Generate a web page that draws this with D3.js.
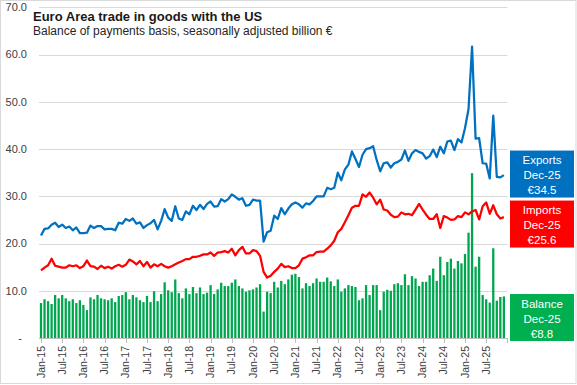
<!DOCTYPE html>
<html>
<head>
<meta charset="utf-8">
<script src="https://cdn.jsdelivr.net/npm/d3@7"></script>
<style>
  body { margin: 0; background: #fff; }
  text { font-family: "Liberation Sans", Arial, sans-serif; }
</style>
</head>
<body>
<script>
var w = 577;
var h = 385;

// Monthly data, Jan-15 .. Dec-25 (billion euro)
var exportsUS = [
    21.7, 23.1, 23.2, 24.0, 24.4, 23.5, 24.0, 23.3, 23.6, 22.8, 23.4, 22.2,
    22.2, 22.3, 23.8, 23.3, 23.7, 23.7, 23.0, 23.1, 23.1, 22.8, 24.4, 24.2,
    25.2, 24.8, 25.3, 24.2, 24.5, 23.3, 23.9, 24.3, 25.0, 23.0, 24.8, 27.3,
    25.5, 24.8, 27.9, 25.3, 25.0, 26.8, 26.2, 28.0, 27.1, 28.2, 27.3, 28.4,
    28.9, 27.8, 27.9, 29.4, 28.9, 29.4, 30.4, 29.9, 29.3, 29.6, 28.0, 28.2,
    29.3, 29.1, 29.1, 20.4, 22.4, 22.7, 25.9, 25.2, 27.5, 26.2, 27.4, 28.3,
    28.7, 28.3, 27.6, 28.5, 28.3, 29.0, 30.0, 30.0, 30.0, 31.8, 31.5, 31.8,
    35.0, 33.4, 35.7, 36.7, 39.5, 37.9, 36.2, 38.8, 40.0, 40.2, 40.6, 37.7,
    35.3, 37.0, 37.2, 36.1, 37.0, 37.3, 37.8, 39.7, 37.5, 39.1, 39.8, 39.4,
    39.1, 38.0, 38.5, 39.9, 38.3, 40.5, 39.1, 41.6, 41.8, 39.8, 42.1, 41.4,
    44.4, 48.5, 61.7, 42.2, 42.3, 37.0, 36.9, 33.8, 47.1, 34.1, 34.0, 34.5
];
var importsUS = [
    14.3, 14.9, 15.4, 16.8, 15.3, 15.1, 14.9, 14.9, 15.4, 15.2, 15.4, 14.8,
    15.2, 16.4, 15.2, 15.1, 14.6, 15.3, 14.8, 15.1, 14.7, 15.2, 15.5, 15.1,
    15.5, 16.6, 16.2, 15.6, 16.3, 15.2, 16.1, 14.9, 15.6, 15.2, 15.7, 15.2,
    14.9, 15.2, 15.6, 16.0, 16.3, 16.7, 16.7, 17.2, 17.2, 17.4, 17.7, 17.7,
    18.1, 17.4, 18.1, 18.2, 18.4, 18.1, 18.9, 17.5, 18.6, 19.3, 17.9, 17.9,
    18.6, 18.4, 17.4, 14.0, 12.8, 13.2, 14.0, 14.7, 15.7, 15.0, 15.2, 14.8,
    14.8, 15.4, 16.8, 17.1, 17.5, 17.5, 18.2, 18.3, 18.3, 18.9, 19.6, 20.6,
    22.4, 23.1, 24.5, 26.0, 27.6, 28.0, 28.0, 30.4, 29.9, 30.8, 29.7, 28.3,
    29.3, 27.2, 27.0, 26.1, 25.6, 25.7, 26.6, 26.2, 26.3, 26.0, 27.2, 28.4,
    27.2, 26.1, 25.2, 25.2, 26.2, 23.3, 25.8, 25.5, 25.0, 25.1, 25.8, 25.6,
    26.6, 26.2, 26.8, 27.1, 25.1, 27.9, 28.7, 26.3, 28.1, 26.2, 25.3, 25.6
];
var balanceUS = [
    7.4, 8.2, 7.8, 7.2, 9.1, 8.4, 9.1, 8.4, 7.8, 8.2, 7.4, 8.0,
    7.0, 5.9, 8.6, 8.2, 9.1, 8.4, 8.2, 8.0, 8.4, 7.6, 8.9, 9.1,
    9.7, 8.2, 9.1, 8.6, 8.0, 7.6, 8.9, 7.6, 9.9, 7.8, 9.3, 11.8,
    10.1, 9.7, 12.4, 9.5, 8.4, 10.5, 9.3, 10.8, 9.5, 10.7, 9.3, 9.6,
    11.2, 9.3, 10.3, 11.7, 11.0, 11.0, 11.7, 12.4, 11.0, 10.5, 9.8, 10.1,
    10.3, 10.7, 11.4, 5.6, 9.8, 9.5, 11.9, 10.7, 12.1, 11.4, 12.4, 13.4,
    13.6, 12.9, 10.5, 11.6, 11.0, 11.6, 12.6, 11.9, 11.9, 12.8, 12.0, 11.0,
    12.4, 9.8, 10.5, 11.2, 11.0, 10.8, 8.0, 8.4, 11.2, 9.1, 11.2, 11.2,
    5.9, 9.8, 10.2, 10.0, 11.4, 11.6, 11.2, 13.5, 11.2, 13.1, 12.6, 11.0,
    11.9, 11.9, 13.3, 14.7, 12.1, 17.2, 13.3, 16.1, 16.8, 14.7, 16.3, 15.8,
    17.8, 22.3, 34.9, 15.1, 17.2, 9.1, 8.2, 7.5, 19.0, 7.9, 8.7, 8.8
];

var tickLabels = ["Jan-15", "Jul-15", "Jan-16", "Jul-16", "Jan-17", "Jul-17",
    "Jan-18", "Jul-18", "Jan-19", "Jul-19", "Jan-20", "Jul-20", "Jan-21", "Jul-21",
    "Jan-22", "Jul-22", "Jan-23", "Jul-23", "Jan-24", "Jul-24", "Jan-25", "Jul-25"];
var yTicks = [0, 10, 20, 30, 40, 50, 60, 70];

var lastLabel = "Dec-25";

var nMonths = exportsUS.length;

//Scales
var xScale = d3.scaleLinear()
    .domain([0, nMonths])
    .range([41, 507.4]);

var yScale = d3.scaleLinear()
    .domain([0, 70])
    .range([338, 7.4]);

var svg = d3.select("body")
    .append("svg")
    .attr("width", w)
    .attr("height", h);

//Outer frame
svg.append("rect")
    .attr("x", 0.5).attr("y", 0.5)
    .attr("width", w - 1.5).attr("height", h - 2)
    .attr("fill", "#fff")
    .attr("stroke", "#d9d9d9");

//Gridlines
svg.append("g")
    .selectAll("line")
    .data(yTicks.filter(function(d) { return d > 0; }))
    .enter()
    .append("line")
    .attr("x1", 39)
    .attr("x2", xScale(nMonths))
    .attr("y1", function(d) { return Math.round(yScale(d)) + 0.5; })
    .attr("y2", function(d) { return Math.round(yScale(d)) + 0.5; })
    .attr("stroke", "#d9d9d9")
    .attr("stroke-width", 1);

//Y labels
var fmt = d3.format(".1f");
svg.append("g")
    .selectAll("text")
    .data(yTicks)
    .enter()
    .append("text")
    .attr("x", function(d) { return d === 0 ? 22 : 27; })
    .attr("y", function(d) { return yScale(d); })
    .attr("dy", "0.35em")
    .attr("text-anchor", "end")
    .attr("font-size", "11px")
    .attr("fill", "#404040")
    .text(function(d) { return d === 0 ? "-" : fmt(d); });

//Balance bars
var bw = 2.3;
svg.append("g")
    .selectAll("rect")
    .data(balanceUS)
    .enter()
    .append("rect")
    .attr("x", function(d, i) { return xScale(i) - bw / 2; })
    .attr("y", function(d) { return yScale(d); })
    .attr("width", bw)
    .attr("height", function(d) { return yScale(0) - yScale(d); })
    .attr("fill", "#00a64f");

//X axis line + ticks
svg.append("line")
    .attr("x1", 39).attr("x2", xScale(nMonths))
    .attr("y1", yScale(0) + 0.5).attr("y2", yScale(0) + 0.5)
    .attr("stroke", "#bfbfbf");

var tickIdx = d3.range(0, nMonths + 1, 6);
svg.append("g")
    .selectAll("line")
    .data(tickIdx)
    .enter()
    .append("line")
    .attr("x1", function(d) { return Math.round(xScale(d)) + 0.5; })
    .attr("x2", function(d) { return Math.round(xScale(d)) + 0.5; })
    .attr("y1", yScale(0))
    .attr("y2", yScale(0) + 5)
    .attr("stroke", "#bfbfbf");

svg.append("g")
    .selectAll("text")
    .data(tickLabels)
    .enter()
    .append("text")
    .attr("transform", function(d, i) {
        return "translate(" + xScale(i * 6) + "," + (yScale(0) + 8) + ") rotate(-90)";
    })
    .attr("dy", "0.35em")
    .attr("text-anchor", "end")
    .attr("font-size", "10.5px")
    .attr("fill", "#404040")
    .text(function(d) { return d; });

//Lines
var line = d3.line()
    .x(function(d, i) { return xScale(i); })
    .y(function(d) { return yScale(d); });

svg.append("path")
    .datum(importsUS)
    .attr("d", line)
    .attr("fill", "none")
    .attr("stroke", "#ff0000")
    .attr("stroke-width", 2.25)
    .attr("stroke-linejoin", "round");

svg.append("path")
    .datum(exportsUS)
    .attr("d", line)
    .attr("fill", "none")
    .attr("stroke", "#0070c0")
    .attr("stroke-width", 2.25)
    .attr("stroke-linejoin", "round");

//Title
svg.append("text")
    .attr("x", 33).attr("y", 21)
    .attr("font-size", "13px")
    .attr("font-weight", "bold")
    .attr("fill", "#1a1a1a")
    .text("Euro Area trade in goods with the US");

svg.append("text")
    .attr("x", 33).attr("y", 34.5)
    .attr("font-size", "12px")
    .attr("fill", "#262626")
    .text("Balance of payments basis, seasonally adjusted billion €");

//End-value boxes
var boxW = 64, boxH = 47, boxX = 510;
var last = nMonths - 1;
var expTop = yScale(exportsUS[last]) - boxH / 2 - 1;
var boxes = [
    { name: "Exports", value: exportsUS[last], top: expTop, color: "#0070c0" },
    { name: "Imports", value: importsUS[last], top: expTop + boxH + 3, color: "#ff0000" },
    { name: "Balance", value: balanceUS[last], top: yScale(0) + 3 - boxH, color: "#00b050" }
];

var bg = svg.selectAll("g.box")
    .data(boxes)
    .enter()
    .append("g")
    .attr("class", "box")
    .attr("transform", function(d) { return "translate(" + boxX + "," + d.top + ")"; });

bg.append("rect")
    .attr("width", boxW)
    .attr("height", boxH)
    .attr("fill", function(d) { return d.color; });

bg.each(function(d) {
    var g = d3.select(this);
    [d.name, lastLabel, "€" + fmt(d.value)].forEach(function(t, k) {
        g.append("text")
            .attr("x", boxW / 2)
            .attr("y", 9.5 + k * 15)
            .attr("dy", "0.35em")
            .attr("text-anchor", "middle")
            .attr("font-size", "11.5px")
            .attr("fill", "#fff")
            .text(t);
    });
});
</script>
</body>
</html>
